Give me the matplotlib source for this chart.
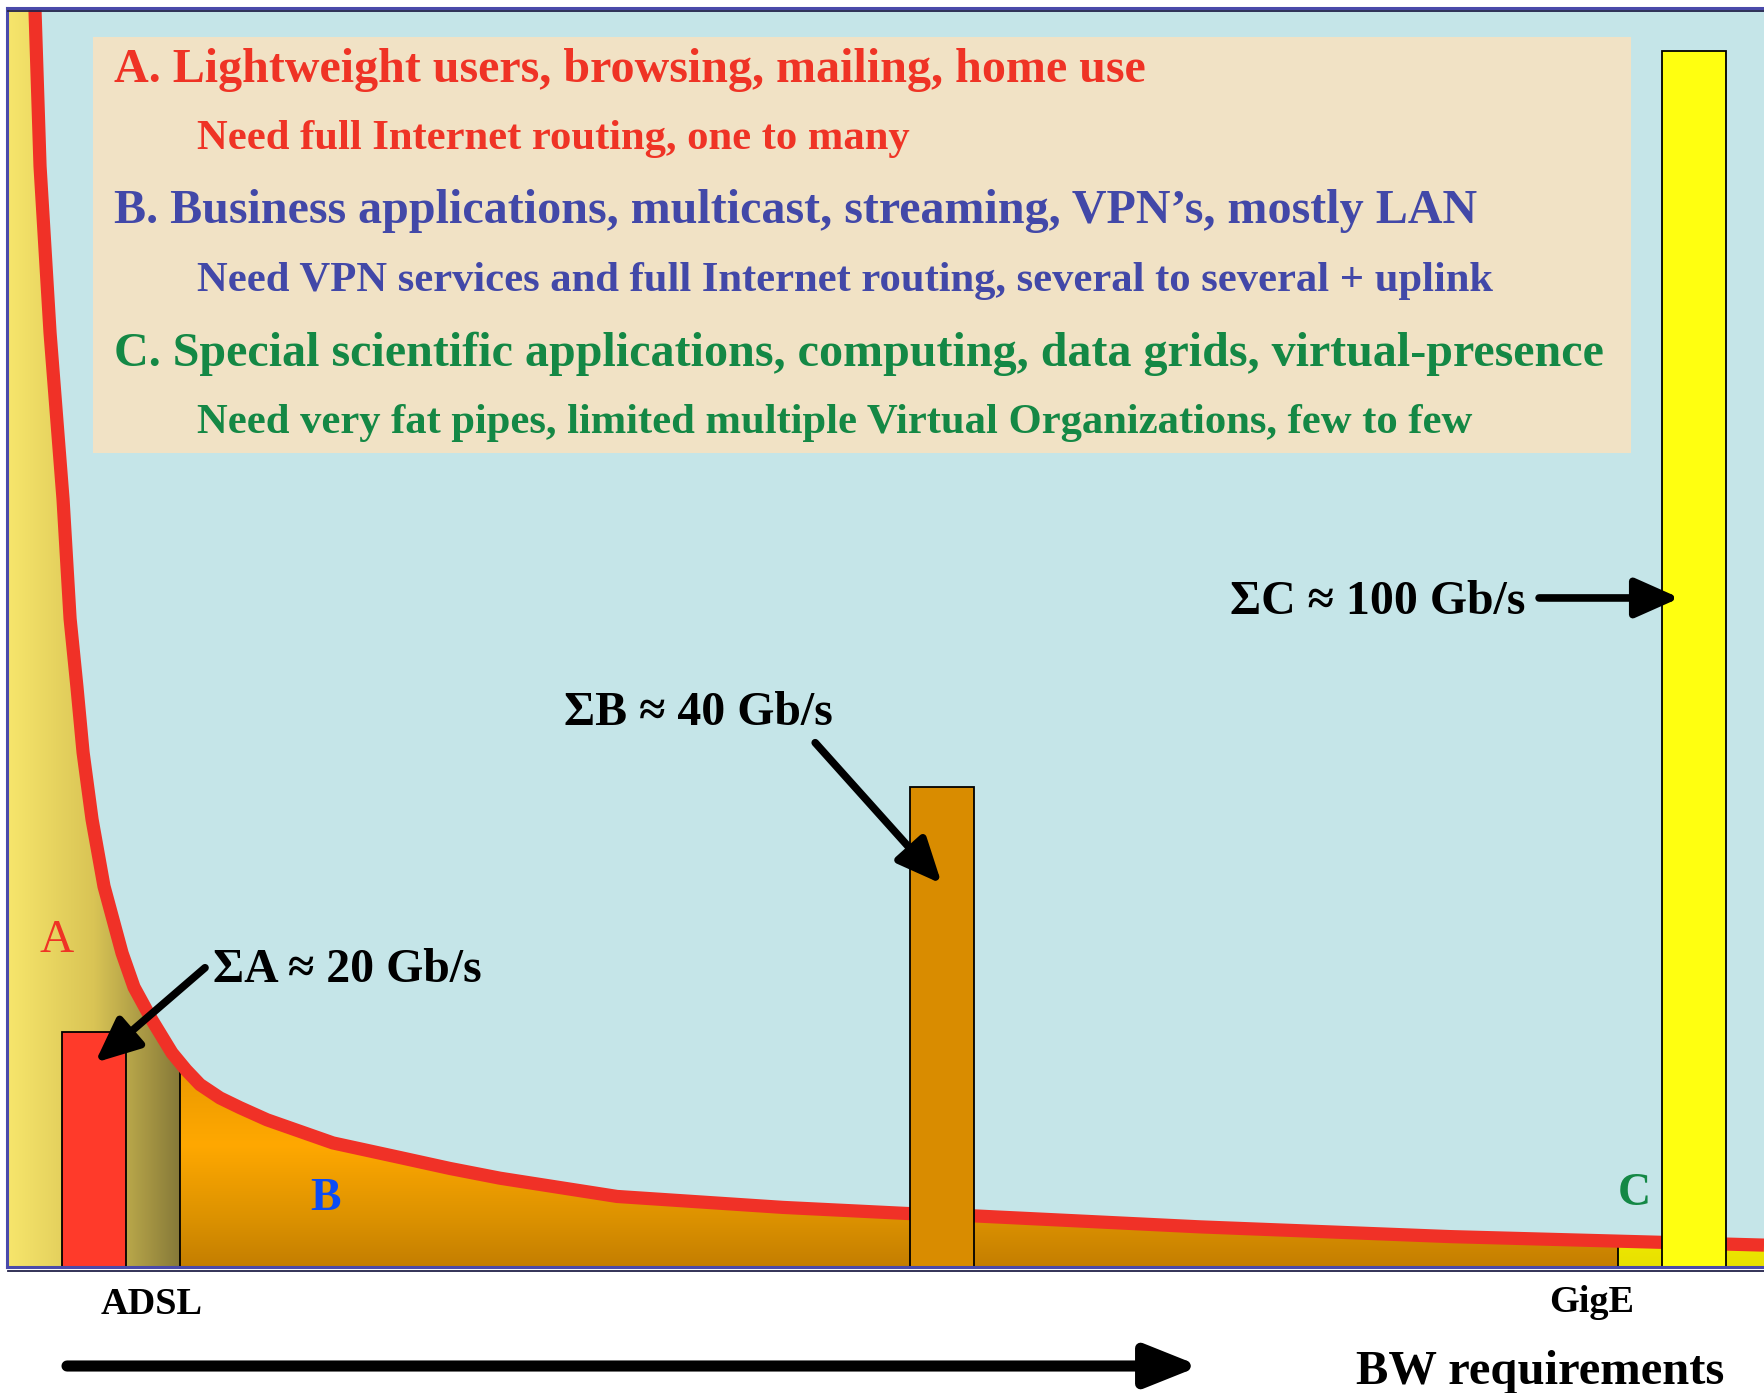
import numpy as np
import matplotlib
matplotlib.use("Agg")
import matplotlib.pyplot as plt
from matplotlib.patches import Polygon, Rectangle, FancyArrowPatch
from matplotlib.lines import Line2D
from matplotlib.colors import LinearSegmentedColormap

# ---------------- data ----------------
# demand curve (x: relative bandwidth position 0-100, y: relative volume)
curve_x = [1.59, 1.88, 2.45, 3.19, 3.59, 3.98, 4.33, 4.84, 5.52, 6.55, 7.23,
           8.25, 9.39, 10.19, 10.98, 12.12, 13.26, 14.80, 18.55, 22.37, 25.21,
           28.06, 34.72, 44.16, 51.22, 55.09, 67.90, 82.13, 100.0]
curve_y = [103.5, 90.5, 76.8, 63.1, 53.3, 47.7, 42.3, 36.8, 31.3, 25.8, 23.0,
           20.3, 17.6, 16.2, 15.0, 13.9, 13.1, 12.1, 10.2, 9.0, 8.1,
           7.3, 5.8, 4.9, 4.4, 4.2, 3.3, 2.5, 1.8]

bar_names = ["ΣA", "ΣB", "ΣC"]
bar_x = [4.95, 53.2, 96.0]
bar_values = [19.3, 39.5, 100.0]          # Gb/s (approx.)
bar_colors = ["#ff3a2a", "#d98c00", "#ffff10"]

bar_labels = ["ΣA ≈ 20 Gb/s", "ΣB ≈ 40 Gb/s", "ΣC ≈ 100 Gb/s"]

region_bounds = [0.0, 9.85, 91.7, 100.0]   # A | B | C
tick_labels = ["ADSL", "GigE"]

lines_text = [
    ("A. Lightweight users, browsing, mailing, home use", 0),
    ("Need full Internet routing, one to many", 1),
    ("B. Business applications, multicast, streaming, VPN’s, mostly LAN", 0),
    ("Need VPN services and full Internet routing, several to several + uplink", 1),
    ("C. Special scientific applications, computing, data grids, virtual-presence", 0),
    ("Need very fat pipes, limited multiple Virtual Organizations, few to few", 1),
]
line_colors = ["#ef3325", "#ef3325", "#4248a8", "#4248a8", "#148845", "#148845"]

# ---------------- figure ----------------
W, H = 1764, 1393
fig = plt.figure(figsize=(W / 100, H / 100), dpi=100)
fig.patch.set_facecolor("white")
serif = ["Liberation Serif", "DejaVu Serif"]

YTOP = 103.5
ax = fig.add_axes([7 / W, 1 - 1267 / H, (W - 7) / W, (1267 - 8) / H])
ax.set_facecolor("#c5e5e8")
ax.set_xlim(0, 100)
ax.set_ylim(0, YTOP)
ax.set_xticks([])
ax.set_yticks([])
for s in ["left", "top", "bottom"]:
    ax.spines[s].set_color("#4a4aaa")
    ax.spines[s].set_linewidth(2.2)
    ax.spines[s].set_zorder(10)
ax.spines["right"].set_visible(False)

cx = np.array(curve_x)
cy = np.array(curve_y)

# polygon under the curve
poly_pts = [(0, 0), (0, YTOP)] + list(zip(cx, cy)) + [(100, 0)]
under = Polygon(poly_pts, closed=True, facecolor="none", edgecolor="none")
ax.add_patch(under)

# A region: horizontal gradient
cmapA = LinearSegmentedColormap.from_list("A", ["#f7e66c", "#d9c455", "#857838"])
gradA = np.linspace(0, 1, 256)[None, :]
imA = ax.imshow(gradA, cmap=cmapA, extent=[region_bounds[0], region_bounds[1], 0, YTOP],
                origin="lower", aspect="auto", interpolation="bilinear", zorder=1)
imA.set_clip_path(under)

# B region: vertical gradient
cmapB = LinearSegmentedColormap.from_list(
    "B", [(0.0, "#c47e00"), (0.2, "#dc9200"), (0.5, "#ffa800"), (0.85, "#e89800"), (1.0, "#e09000")])
gradB = np.linspace(0, 1, 256)[:, None]
imB = ax.imshow(gradB, cmap=cmapB, extent=[region_bounds[1], region_bounds[2], 0, 20],
                origin="lower", aspect="auto", interpolation="bilinear", zorder=1)
imB.set_clip_path(under)

# C region
cmapC = LinearSegmentedColormap.from_list("C", ["#e8e000", "#f5f200"])
imC = ax.imshow(np.linspace(0, 1, 64)[:, None], cmap=cmapC,
                extent=[region_bounds[2], region_bounds[3], 0, 5],
                origin="lower", aspect="auto", interpolation="bilinear", zorder=1)
imC.set_clip_path(under)

# dividers
for xb in region_bounds[1:3]:
    ax.vlines(xb, 0, np.interp(xb, cx, cy), color="black", lw=1.3, zorder=2)

# red curve
ax.plot(cx, cy, color="#f03127", lw=9.5, solid_capstyle="butt",
        solid_joinstyle="round", zorder=3)

# bars
ax.bar(bar_x, bar_values, width=3.64, bottom=0, color=bar_colors,
       edgecolor="black", linewidth=1.3, zorder=4)

# region letters
ax.text(2.85, 26.8, "A", color="#ef3325", fontsize=34, family=serif,
        ha="center", va="center", zorder=5)
ax.text(18.1, 5.6, "B", color="#0b4cf5", fontsize=33, family=serif, weight="bold",
        ha="center", va="center", zorder=5)
ax.text(92.6, 6.0, "C", color="#148845", fontsize=33, family=serif, weight="bold",
        ha="center", va="center", zorder=5)

# annotation arrows (data coordinates)
arrow_from = [(11.27, 24.6), (46.0, 43.1), (87.2, 55.0)]
arrow_to = [(5.01, 16.8), (53.2, 31.5), (95.2, 55.0)]
for (x0, y0), (x1, y1) in zip(arrow_from, arrow_to):
    ax.annotate("", xy=(x1, y1), xytext=(x0, y0),
                arrowprops=dict(arrowstyle="-|>,head_length=0.45,head_width=0.2",
                                mutation_scale=60, lw=5.5, color="black",
                                shrinkA=0, shrinkB=0),
                zorder=6)

# sum labels (figure coords)
label_pos = [(213, 970), (564, 713), (1230, 602)]
for lab, (px, py) in zip(bar_labels, label_pos):
    fig.text(px / W, 1 - py / H, lab, fontsize=34.4, family=serif, weight="bold",
             ha="left", va="center", color="black", zorder=6)

# text box
fig.add_artist(Rectangle((93 / W, 1 - 453 / H), (1631 - 93) / W, (453 - 37) / H,
                         transform=fig.transFigure, facecolor="#f1e2c5",
                         edgecolor="none", zorder=1))
baselines = [82, 149, 223, 291, 366, 433]
for (txt, indent), col, b in zip(lines_text, line_colors, baselines):
    x0 = 114 if indent == 0 else 197
    fig.text(x0 / W, 1 - b / H, txt, color=col, family=serif, weight="bold",
             fontsize=34.6 if indent == 0 else 30.7, ha="left", va="baseline", zorder=2)

# frame shadow lines
for yy in [10.5, 1270.5]:
    fig.add_artist(Line2D([8 / W, 1], [1 - yy / H, 1 - yy / H], transform=fig.transFigure,
                          color="#22224a", lw=1.3, zorder=3))

# axis tick labels
tick_px = [(152, 1305), (1592, 1302)]
for lab, (px, py) in zip(tick_labels, tick_px):
    fig.text(px / W, 1 - py / H, lab, fontsize=27.5, family=serif, weight="bold",
             ha="center", va="center")

# big bottom arrow
fig.add_artist(FancyArrowPatch(
    (67 / W, 1 - 1366 / H), (1200 / W, 1 - 1366 / H), transform=fig.transFigure,
    arrowstyle="-|>,head_length=0.4,head_width=0.16", mutation_scale=80,
    lw=8, color="black", shrinkA=0, shrinkB=0))
fig.text(1540 / W, 1 - 1372 / H, "BW requirements", fontsize=35, family=serif,
         weight="bold", ha="center", va="center")

fig.savefig("out.png", dpi=100)
